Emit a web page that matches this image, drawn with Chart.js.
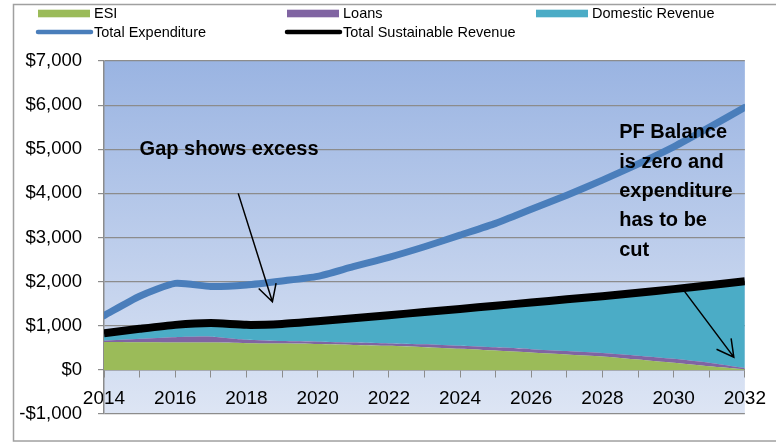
<!DOCTYPE html>
<html>
<head>
<meta charset="utf-8">
<script src="https://cdn.jsdelivr.net/npm/chart.js@4.4.1/dist/chart.umd.min.js"></script>
<style>
  html, body { margin: 0; padding: 0; background: #fff; }
</style>
</head>
<body>
<canvas id="myChart" width="776" height="442"></canvas>
<script>
// chart data
const years = [2014, 2015, 2016, 2017, 2018, 2019, 2020, 2021, 2022, 2023,
               2024, 2025, 2026, 2027, 2028, 2029, 2030, 2031, 2032];
const esi = [630, 625, 620, 618, 605, 595, 585, 565, 545, 515,
             480, 440, 395, 350, 305, 235, 160, 80, 10];
const loans = [30, 80, 120, 135, 80, 60, 55, 55, 55, 65,
               65, 70, 75, 75, 75, 85, 90, 80, 30];
const domesticRevenue = [130, 185, 240, 265, 295, 345, 420, 510, 600, 690,
                         795, 905, 1015, 1135, 1250, 1390, 1540, 1720, 1930];
const totalExpenditure = [1230, 1670, 1960, 1890, 1925, 2015, 2120, 2340, 2550, 2790,
                          3055, 3320, 3640, 3960, 4300, 4665, 5055, 5495, 5950];
const totalSustainable = [830, 930, 1020, 1060, 1020, 1040, 1100, 1170, 1240, 1310,
                          1380, 1455, 1525, 1600, 1670, 1750, 1830, 1920, 2010];
const yTicks = { min: -1000, max: 7000, step: 1000 };

// annotations, in data units (year, value)
const gapNote = { text: 'Gap shows excess', x: 2015.0, y: 4985 };
const gapArrow = { from: [2017.77, 4000], to: [2018.73, 1545] };
const pfNote = { lines: ['PF Balance', 'is zero and', 'expenditure', 'has to be', 'cut'], x: 2028.47, y: 5370 };
const pfArrow = { from: [2030.31, 1773], to: [2031.69, 288] };

const colors = {
  esi: '#9bbb59',
  loans: '#8064a2',
  domestic: '#4bacc6',
  expenditure: '#4a7ebb',
  sustainable: '#000000',
  grid: '#8c8c8c'
};
const fontFam = '"Liberation Sans", Arial, sans-serif';

function money(v) {
  const s = Math.abs(v).toLocaleString('en-US');
  return (v < 0 ? '-$' : '$') + s;
}

function drawArrow(ctx, x1, y1, x2, y2) {
  const ang = Math.atan2(y2 - y1, x2 - x1);
  const len = 19, spread = 0.5;
  ctx.beginPath();
  ctx.moveTo(x1, y1);
  ctx.lineTo(x2, y2);
  ctx.moveTo(x2 - len * Math.cos(ang - spread), y2 - len * Math.sin(ang - spread));
  ctx.lineTo(x2, y2);
  ctx.lineTo(x2 - len * Math.cos(ang + spread), y2 - len * Math.sin(ang + spread));
  ctx.stroke();
}

const decorPlugin = {
  id: 'decor',
  beforeDraw(chart) {
    const { ctx, chartArea: a } = chart;
    ctx.save();
    ctx.fillStyle = '#fff';
    ctx.fillRect(0, 0, chart.width, chart.height);
    // outer frame
    ctx.strokeStyle = '#a0a0a0';
    ctx.lineWidth = 1.5;
    ctx.strokeRect(13.5, 4.5, chart.width, 436.5);
    // plot background gradient
    const g = ctx.createLinearGradient(0, a.top, 0, a.bottom);
    g.addColorStop(0, '#9ab4e2');
    g.addColorStop(1, '#dde5f4');
    ctx.fillStyle = g;
    ctx.fillRect(a.left, a.top, a.right - a.left, a.bottom - a.top);
    ctx.restore();
  },
  afterDraw(chart) {
    const { ctx } = chart;
    const xs = chart.scales.x, ys = chart.scales.y;
    ctx.save();
    // legend
    const cols = [38, 287, 536];
    const items = [
      { label: 'ESI', color: colors.esi, type: 'box', col: 0, row: 0 },
      { label: 'Loans', color: colors.loans, type: 'box', col: 1, row: 0 },
      { label: 'Domestic Revenue', color: colors.domestic, type: 'box', col: 2, row: 0 },
      { label: 'Total Expenditure', color: colors.expenditure, type: 'line', col: 0, row: 1 },
      { label: 'Total Sustainable Revenue', color: colors.sustainable, type: 'line', col: 1, row: 1 }
    ];
    ctx.font = '14.5px ' + fontFam;
    ctx.textBaseline = 'middle';
    ctx.textAlign = 'left';
    items.forEach(it => {
      const x = cols[it.col];
      const y = it.row === 0 ? 13.5 : 32;
      if (it.type === 'box') {
        ctx.fillStyle = it.color;
        ctx.fillRect(x, y - 3.8, 52, 7.6);
      } else {
        ctx.strokeStyle = it.color;
        ctx.lineWidth = 4.5;
        ctx.lineCap = 'round';
        ctx.beginPath();
        ctx.moveTo(x, y);
        ctx.lineTo(x + 53, y);
        ctx.stroke();
      }
      ctx.fillStyle = '#000';
      ctx.fillText(it.label, x + 56, y + 0.5);
    });
    // annotations
    ctx.fillStyle = '#000';
    ctx.font = 'bold 20px ' + fontFam;
    ctx.fillText(gapNote.text, xs.getPixelForValue(gapNote.x), ys.getPixelForValue(gapNote.y));
    const px = xs.getPixelForValue(pfNote.x);
    const py = ys.getPixelForValue(pfNote.y);
    pfNote.lines.forEach((l, i) => ctx.fillText(l, px, py + i * 29.3));
    ctx.strokeStyle = '#000';
    ctx.lineWidth = 1.5;
    ctx.lineCap = 'butt';
    [gapArrow, pfArrow].forEach(ar => {
      drawArrow(ctx,
        xs.getPixelForValue(ar.from[0]), ys.getPixelForValue(ar.from[1]),
        xs.getPixelForValue(ar.to[0]), ys.getPixelForValue(ar.to[1]));
    });
    ctx.restore();
  }
};

const ctx = document.getElementById('myChart');
const cht = new Chart(ctx, {
  type: 'line',
  data: {
    labels: years,
    datasets: [
      {
        label: 'Total Expenditure',
        data: totalExpenditure,
        borderColor: colors.expenditure,
        borderWidth: 7,
        borderCapStyle: 'round',
        fill: false,
        stack: 'exp',
        tension: 0.2
      },
      {
        label: 'Total Sustainable Revenue',
        data: totalSustainable,
        borderColor: colors.sustainable,
        borderWidth: 8,
        fill: false,
        stack: 'sus',
        tension: 0.2
      },
      {
        label: 'ESI',
        data: esi,
        backgroundColor: colors.esi,
        borderWidth: 0,
        fill: 'origin',
        stack: 'rev',
        tension: 0.2
      },
      {
        label: 'Loans',
        data: loans,
        backgroundColor: colors.loans,
        borderWidth: 0,
        fill: '-1',
        stack: 'rev',
        tension: 0.2
      },
      {
        label: 'Domestic Revenue',
        data: domesticRevenue,
        backgroundColor: colors.domestic,
        borderWidth: 0,
        fill: '-1',
        stack: 'rev',
        tension: 0.2
      }
    ]
  },
  options: {
    responsive: false,
    animation: false,
    devicePixelRatio: 1,
    elements: { point: { radius: 0, hoverRadius: 0 } },
    layout: { padding: { top: 61, right: 29, bottom: 28, left: 0 } },
    plugins: {
      legend: { display: false },
      tooltip: { enabled: false }
    },
    scales: {
      x: {
        type: 'linear',
        min: years[0],
        max: years[years.length - 1],
        position: { y: 0 },
        grid: { drawOnChartArea: false, drawTicks: true, tickLength: 7, color: colors.grid },
        border: { display: true, color: colors.grid, width: 1.5 },
        ticks: {
          stepSize: 1,
          autoSkip: false,
          maxRotation: 0,
          padding: 10,
          color: '#000',
          font: { family: fontFam, size: 19 },
          callback: v => (v % 2 === 0 ? String(v) : '')
        }
      },
      y: {
        stacked: true,
        min: yTicks.min,
        max: yTicks.max,
        afterFit: s => { s.width = 104; },
        grid: { color: colors.grid, tickLength: 6, lineWidth: 1.2 },
        border: { display: true, color: colors.grid, width: 1.5 },
        ticks: {
          stepSize: yTicks.step,
          padding: 16,
          color: '#000',
          font: { family: fontFam, size: 18.5 },
          callback: v => money(v)
        }
      }
    }
  },
  plugins: [decorPlugin]
});
</script>
</body>
</html>
